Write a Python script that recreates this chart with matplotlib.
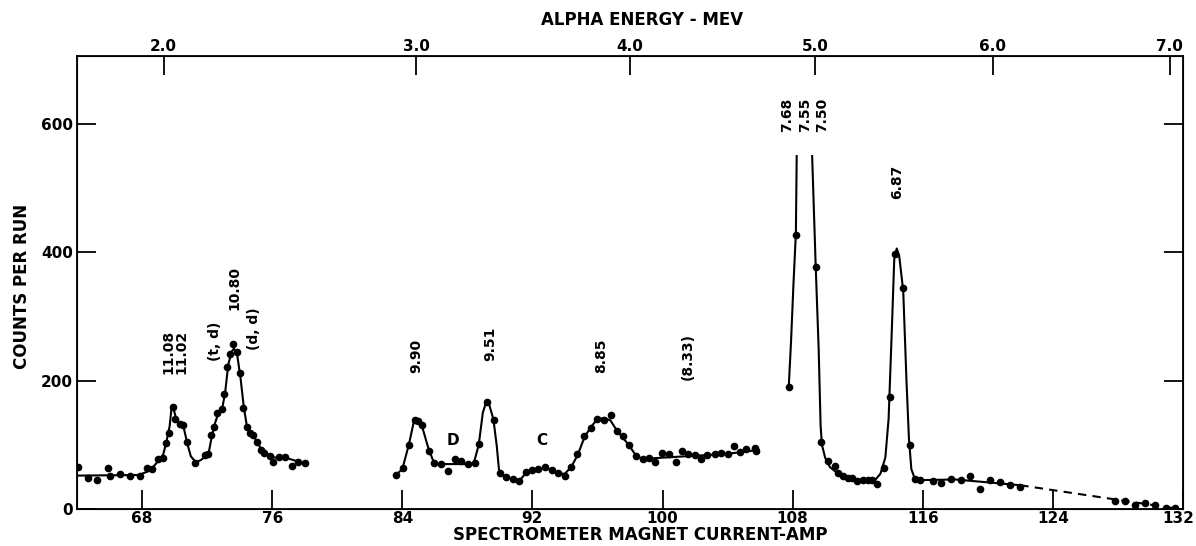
"""
Alpha spectrum: counts per run vs spectrometer magnet current
"""
import matplotlib
matplotlib.use("Agg")
import matplotlib.pyplot as plt
import matplotlib.transforms as mtransforms

# measured points (magnet current in amp, counts per run)
pts1_x = [64.08, 64.7, 65.2, 65.9, 66.0, 66.64, 67.26, 67.87, 68.32, 68.6, 69.0, 69.27, 69.47, 69.63,
          69.88, 70.04, 70.33, 70.53, 70.78, 71.25, 71.87, 72.07, 72.24, 72.42, 72.63, 72.9, 73.04,
          73.24, 73.43, 73.6, 73.82, 74.04, 74.2, 74.43, 74.63, 74.84, 75.08, 75.31, 75.51, 75.86,
          76.03, 76.41, 76.78, 77.23, 77.6, 78.0]
pts1_y = [65, 49, 45, 64, 52, 54, 52, 51, 64, 63, 78, 80, 103, 118,
          159, 141, 133, 131, 105, 72, 84, 86, 115, 128, 149, 156, 179,
          222, 241, 257, 245, 212, 158, 128, 119, 115, 104, 92, 88, 83,
          74, 81, 81, 67, 73, 71]

pts2_x = [83.61, 84.06, 84.41, 84.78, 84.98, 85.23, 85.64, 85.96, 86.41, 86.82, 87.23, 87.6, 88.05,
          88.46, 88.73, 89.18, 89.63, 90.0, 90.37, 90.78, 91.19, 91.58, 91.95, 92.35, 92.77, 93.21,
          93.58, 94.0, 94.4, 94.77, 95.18, 95.59, 95.98, 96.41, 96.86, 97.23, 97.58, 97.95, 98.36,
          98.77, 99.18, 99.53, 99.94, 100.39, 100.8, 101.17, 101.57, 101.98, 102.39, 102.76, 103.21,
          103.62, 104.0, 104.4, 104.75, 105.16, 105.67, 105.77]
pts2_y = [53, 64, 100, 139, 137, 131, 91, 72, 70, 59, 78, 75, 70,
          71, 101, 167, 139, 56, 50, 46, 44, 57, 61, 62, 65, 61,
          56, 52, 66, 85, 113, 126, 141, 139, 146, 122, 113, 100, 82,
          78, 80, 74, 87, 85, 74, 91, 85, 84, 78, 84, 85,
          87, 85, 98, 89, 94, 95, 90]

pts3_x = [107.76, 108.19, 109.42, 109.77, 110.18, 110.59, 110.8, 111.1, 111.41, 111.62, 111.96,
          112.33, 112.64, 112.88, 113.19, 113.6, 113.97, 114.28, 114.79, 115.2, 115.5, 115.86,
          116.6, 117.15, 117.72, 118.37, 118.93, 119.54, 120.11, 120.77, 121.34, 121.96,
          127.8, 128.45, 129.03, 129.68, 130.3, 130.93, 131.48]
pts3_y = [190, 427, 377, 105, 75, 67, 56, 51, 49, 49, 44,
          45, 45, 45, 39, 64, 174, 398, 345, 100, 46, 45,
          44, 41, 46, 45, 51, 31, 45, 42, 37, 35,
          13, 13, 6, 9, 6, 2, 1]

# hand drawn fitted curves
fit1_x = [64.0, 67.8, 68.5, 69.0, 69.3, 69.5, 69.7, 69.8, 69.9, 70.0, 70.1, 70.4, 70.55, 70.8, 71.0,
          71.3, 71.6, 71.9, 72.1, 72.3, 72.5, 72.7, 72.95, 73.1, 73.3, 73.5, 73.65, 73.85, 74.05,
          74.25, 74.45, 74.7, 74.9, 75.1, 75.35, 75.6, 75.9, 76.2, 76.8, 77.6]
fit1_y = [52, 53, 60, 75, 85, 105, 130, 155, 158, 150, 140, 132, 128, 100, 82,
          73, 76, 82, 88, 115, 135, 150, 160, 180, 225, 245, 250, 240, 205,
          160, 128, 117, 112, 103, 92, 88, 82, 80, 80, 74]

fit2_x = [83.6, 84.0, 84.4, 84.7, 84.85, 85.0, 85.2, 85.6, 85.9, 86.2, 87.0, 88.0, 88.4, 88.7, 88.95,
          89.15, 89.35, 89.6, 89.8, 89.95, 90.2, 90.8, 91.2, 91.6, 92.0, 92.5, 92.8, 93.2, 93.6,
          94.0, 94.4, 94.8, 95.2, 95.6, 96.0, 96.4, 96.8, 97.2, 97.6, 98.0, 98.4, 98.8, 100.0,
          102.0, 104.0, 105.9]
fit2_y = [53, 62, 100, 135, 140, 138, 130, 95, 75, 70, 70, 70, 72, 100, 150,
          166, 162, 140, 100, 60, 52, 46, 44, 56, 61, 63, 64, 60, 55,
          55, 66, 85, 112, 128, 140, 142, 138, 122, 110, 97, 82, 78, 80,
          83, 86, 92]

fit3_x = [107.76, 107.9, 108.05, 108.2, 108.25]
fit3_y = [190, 260, 350, 430, 550]

fit4_x = [109.2, 109.42, 109.6, 109.72, 109.8, 110.0, 110.3, 110.8, 111.5, 112.5, 113.1, 113.4,
          113.7, 113.9, 114.1, 114.25, 114.4, 114.55, 114.8, 115.0, 115.15, 115.3, 115.5, 116.0,
          118.0, 122.0]
fit4_y = [550, 377, 250, 130, 100, 80, 65, 55, 48, 45, 46, 55,
          80, 140, 280, 390, 406, 395, 340, 200, 110, 62, 48, 45,
          46, 37]

dash_x = [122.0, 131.5]
dash_y = [37, 1]

# peak labels: (text, x, bottom y)
peak_labels = [("11.08", 69.6, 210), ("11.02", 70.45, 210), ("(t, d)", 72.48, 230),
               ("10.80", 73.65, 310), ("(d, d)", 74.88, 248), ("9.90", 84.88, 212),
               ("9.51", 89.38, 231), ("8.85", 96.25, 212), ("(8.33)", 101.55, 201),
               ("7.68", 107.64, 587), ("7.55", 108.75, 587), ("7.50", 109.83, 587),
               ("6.87", 114.42, 483)]
region_labels = [("D", 87.13, 106), ("C", 92.6, 106)]

x_ticks = [68, 76, 84, 92, 100, 108, 116, 124, 132]
y_ticks = [0, 200, 400, 600]
energy_labels = ["2.0", "3.0", "4.0", "5.0", "6.0", "7.0"]
energy_pos = [69.33, 84.84, 97.99, 109.4, 120.3, 131.18]

plt.rcParams['font.family'] = ['DejaVu Sans']
plt.rcParams['font.weight'] = 'bold'

fig = plt.figure(figsize=(11.96, 5.46), dpi=100)
ax = fig.add_axes([0.0644, 0.0678, 0.9247, 0.8296])

for fx, fy in [(fit1_x, fit1_y), (fit2_x, fit2_y), (fit3_x, fit3_y), (fit4_x, fit4_y)]:
    ax.plot(fx, fy, color='black', lw=1.5)
ax.plot(dash_x, dash_y, color='black', lw=1.5, ls=(0, (4, 3)))

for px, py in [(pts1_x, pts1_y), (pts2_x, pts2_y), (pts3_x, pts3_y)]:
    ax.plot(px, py, 'o', color='black', ms=4.5)

for txt, x, y in peak_labels:
    ax.text(x, y, txt, rotation=90, ha='center', va='bottom', fontsize=10, fontweight='bold')
for txt, x, y in region_labels:
    ax.text(x, y, txt, ha='center', va='center', fontsize=11, fontweight='bold')

ax.set_xlim(64, 132)
ax.set_ylim(0, 706)
ax.set_xticks(x_ticks)
ax.set_yticks(y_ticks)
ax.tick_params(axis='both', direction='in', length=14, width=1.3, labelsize=11)
ax.tick_params(axis='y', right=True, labelright=False, pad=3)
ax.tick_params(axis='x', pad=1.5)
for lab in ax.get_xticklabels() + ax.get_yticklabels():
    lab.set_fontweight('bold')
for s in ax.spines.values():
    s.set_linewidth(1.3)

# last bottom label sits at the page edge, nudge it a little to the left
last = ax.get_xticklabels()[-1]
last.set_transform(last.get_transform() +
                   mtransforms.ScaledTranslation(-5 / 100, 0, fig.dpi_scale_trans))

top = ax.twiny()
top.set_xlim(ax.get_xlim())
top.set_xticks(energy_pos)
top.set_xticklabels(energy_labels, fontweight='bold')
top.tick_params(direction='in', length=14, width=1.3, labelsize=11, pad=1.5)

# axis titles placed by hand, as in the original drawing
fig.text(0.535, 0.011, "SPECTROMETER MAGNET CURRENT-AMP", ha='center', va='baseline',
         fontsize=12, fontweight='bold')
fig.text(0.537, 0.963, "ALPHA ENERGY - MEV", ha='center', va='center',
         fontsize=12, fontweight='bold')
fig.text(0.018, 0.476, "COUNTS PER RUN", ha='center', va='center', rotation=90,
         fontsize=12, fontweight='bold')

fig.savefig("out.png", dpi=100)
